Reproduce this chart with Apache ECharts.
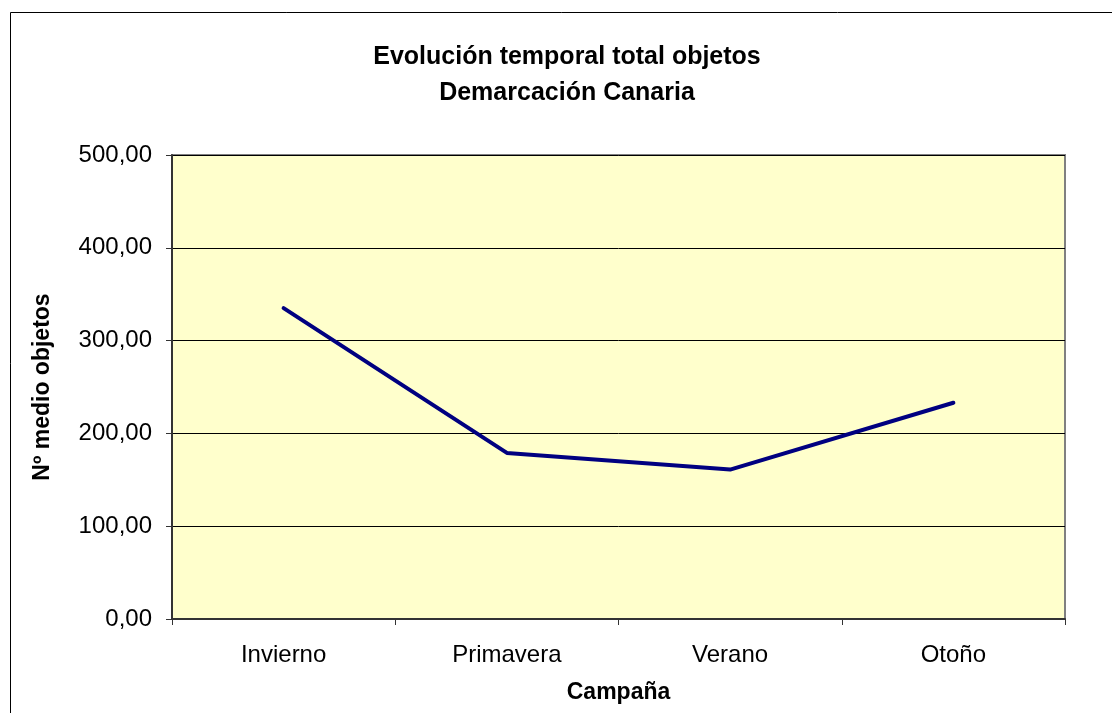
<!DOCTYPE html>
<html>
<head>
<meta charset="utf-8">
<script src="https://cdn.jsdelivr.net/npm/echarts@6/dist/echarts.min.js"></script>
<style>
  html, body { margin: 0; padding: 0; background: #fff; }
  #chart { width: 1112px; height: 713px; }
</style>
</head>
<body>
<div id="chart"></div>
<script>
const categories = ['Invierno', 'Primavera', 'Verano', 'Otoño']
const values = [335, 179, 161, 233]
const titleLines = ['Evolución temporal total objetos', 'Demarcación Canaria']

const chart = echarts.init(document.getElementById('chart'))
chart.setOption({
  backgroundColor: '#fff',
  animation: false,
  title: {
    text: titleLines.join('\n'),
    left: 562,
    top: 34,
    textAlign: 'center',
    textStyle: {
      fontFamily: 'Liberation Sans, Arial',
      fontSize: 25,
      fontWeight: 'bold',
      color: '#000',
      lineHeight: 36
    }
  },
  graphic: [{
    type: 'rect',
    shape: { x: 10.5, y: 12.5, width: 1110, height: 720 },
    style: { fill: 'none', stroke: '#000', lineWidth: 1 },
    silent: true
  }],
  grid: {
    left: 172,
    right: 47,
    top: 155,
    bottom: 94,
    show: true,
    backgroundColor: '#ffffcc',
    borderColor: '#808080',
    borderWidth: 2
  },
  xAxis: {
    type: 'category',
    data: categories,
    boundaryGap: true,
    name: 'Campaña',
    nameLocation: 'middle',
    nameGap: 62,
    nameTextStyle: {
      fontFamily: 'Liberation Sans, Arial',
      fontSize: 23,
      fontWeight: 'bold',
      color: '#000'
    },
    axisLine: { lineStyle: { color: '#333', width: 2 } },
    axisTick: { show: true, length: 6, lineStyle: { color: '#333' } },
    axisLabel: {
      fontFamily: 'Liberation Sans, Arial',
      fontSize: 24,
      color: '#000',
      margin: 24
    },
    splitLine: { show: false }
  },
  yAxis: {
    type: 'value',
    min: 0,
    max: 500,
    interval: 100,
    name: 'Nº medio objetos',
    nameLocation: 'middle',
    nameGap: 118,
    nameRotate: 90,
    nameTextStyle: {
      fontFamily: 'Liberation Sans, Arial',
      fontSize: 23,
      fontWeight: 'bold',
      color: '#000'
    },
    axisLine: { show: true, lineStyle: { color: '#333', width: 2 } },
    axisTick: { show: true, length: 6, lineStyle: { color: '#333' } },
    axisLabel: {
      fontFamily: 'Liberation Sans, Arial',
      fontSize: 24,
      color: '#000',
      margin: 20,
      formatter: v => v.toFixed(2).replace('.', ',')
    },
    splitLine: { show: true, lineStyle: { color: '#000', width: 1 } }
  },
  series: [{
    type: 'line',
    data: values,
    symbol: 'none',
    lineStyle: { color: '#000080', width: 4, cap: 'round' },
    silent: true
  }]
})
</script>
</body>
</html>
